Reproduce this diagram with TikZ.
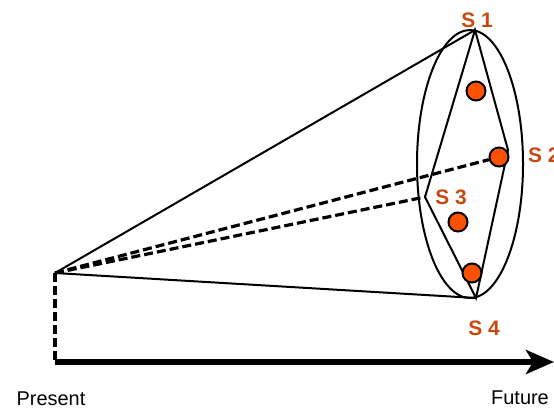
\documentclass[tikz,border=0pt]{standalone}
\usepackage{fontspec}
\setmainfont{Liberation Sans}
\usetikzlibrary{shapes.geometric, arrows.meta, positioning, calc}
\definecolor{scencol}{RGB}{200,72,16}
\definecolor{dotcol}{RGB}{255,80,0}

\begin{document}
\begin{tikzpicture}[x=1bp, y=-1bp,
      dot/.style={circle, draw=black, line width=2bp, fill=dotcol,
        minimum size=19bp, inner sep=0pt},
      scen/.style={font=\fontsize{21}{25}\selectfont\bfseries,
        text=scencol, inner sep=0pt},
      tlabel/.style={font=\fontsize{20}{24}\selectfont, inner sep=0pt},
      edge/.style={line width=2bp},
      dashline/.style={line width=3.2bp, dash pattern=on 9bp off 4bp},
      axis/.style={line width=6bp, -{Stealth[length=28bp, width=24bp, inset=7bp]}}
    ]
      \useasboundingbox (0,0) rectangle (554,408);

      % present and the cone of futures
      \coordinate (now) at (55,273);
      \coordinate (base) at (55,362);
      \coordinate (end) at (554,362);
      \node[draw, ellipse, edge, minimum width=106bp, minimum height=268bp,
        inner sep=0pt] (cone) at (470,164) {};

      \coordinate (s1) at (475,30);
      \coordinate (s2) at (508,150);
      \coordinate (s3) at (425,197);
      \coordinate (s4) at (476,298);

      \draw[edge] (now) -- (s1);
      \draw[edge] (now) -- (s4);
      \draw[edge, line join=miter] (s1) -- (s2) -- (s4) -- (s3) -- cycle;

      \node[dot] (d1) at (476,91) {};
      \node[dot] (d2) at (499,157) {};
      \node[dot] (d3) at (458,222) {};
      \node[dot] (d4) at (472,273) {};

      \draw[dashline] (now) -- (d2);
      \draw[dashline] (now) -- (s3);
      \draw[dashline] (now) -- (base);
      \draw[axis] (base) -- (end);

      \node[scen] (l1) at (477,20) {S 1};
      \node[scen, anchor=west] (l2) at (528,155) {S 2};
      \node[scen] (l3) at (451,197) {S 3};
      \node[scen] (l4) at (484,328) {S 4};

      \node[tlabel] (present) at (51,399) {Present};
      \node[tlabel] (future) at (520,398) {Future};
    \end{tikzpicture}
\end{document}
